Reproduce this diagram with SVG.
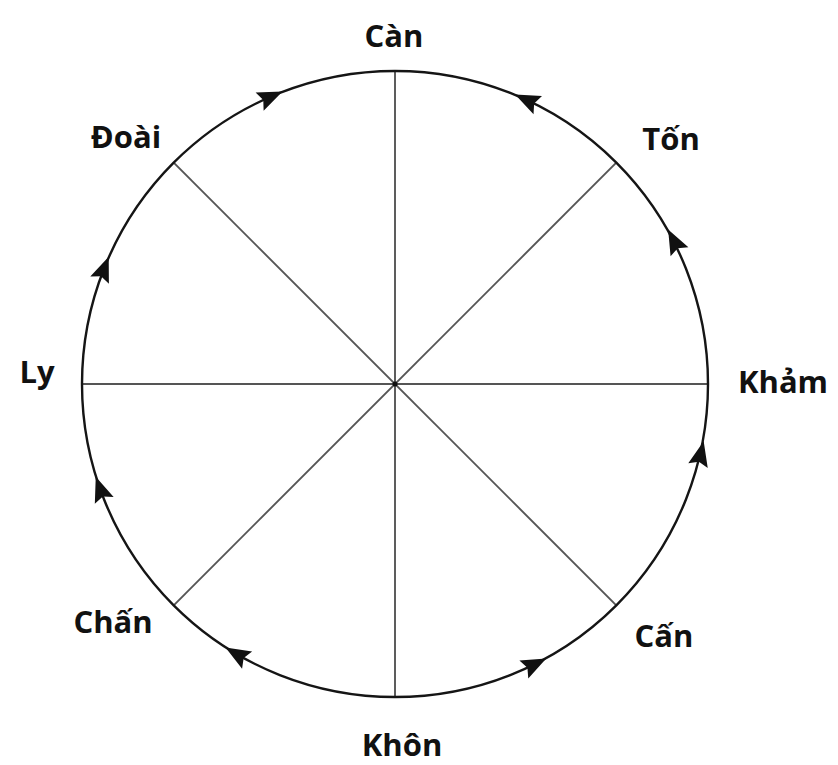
<svg xmlns="http://www.w3.org/2000/svg" width="838" height="765" viewBox="0 0 838 765">
<style>
.lbl{font-family:"Open Sans","Liberation Sans",sans-serif;font-weight:bold;font-size:31px;fill:#111;text-anchor:middle}
.spoke{stroke:#555;stroke-width:1.9;fill:none}
.ring{stroke:#151515;stroke-width:2.4;fill:none}
.ah{fill:#111}
</style>
<defs>
<path id="arrow" class="ah" d="M14,0 L-11,-10 L-7,0 L-11,10 Z"/>
</defs>
<rect width="838" height="765" fill="#fff"/>
<g id="connectors">
<line class="spoke" x1="395" y1="71" x2="395" y2="697"/>
<line class="spoke" x1="82" y1="384" x2="708" y2="384"/>
<line class="spoke" x1="173.7" y1="162.7" x2="616.3" y2="605.3"/>
<line class="spoke" x1="616.3" y1="162.7" x2="173.7" y2="605.3"/>
<circle class="ring" cx="395" cy="384" r="313"/>
<circle cx="395" cy="384" r="2.5" fill="#111"/>
<use href="#arrow" transform="translate(269.7,97.2) rotate(-23.6)"/>
<use href="#arrow" transform="translate(527.8,100.5) rotate(-154.9)"/>
<use href="#arrow" transform="translate(674.5,241.9) rotate(-117)"/>
<use href="#arrow" transform="translate(700.5,454.9) rotate(-76.9)"/>
<use href="#arrow" transform="translate(533.7,664.6) rotate(-26.3)"/>
<use href="#arrow" transform="translate(237.6,654.5) rotate(210.2)"/>
<use href="#arrow" transform="translate(100.5,490) rotate(250.2)"/>
<use href="#arrow" transform="translate(103.6,269.8) rotate(291.4)"/>
</g>
<g id="node-can"><text class="lbl" x="394" y="47">Càn</text></g>
<g id="node-ton"><text class="lbl" x="671" y="150">Tốn</text></g>
<g id="node-kham"><text class="lbl" x="783" y="393">Khảm</text></g>
<g id="node-can2"><text class="lbl" x="664" y="647">Cấn</text></g>
<g id="node-khon"><text class="lbl" x="402" y="756">Khôn</text></g>
<g id="node-chan"><text class="lbl" x="113" y="633">Chấn</text></g>
<g id="node-ly"><text class="lbl" x="37" y="383">Ly</text></g>
<g id="node-doai"><text class="lbl" x="126" y="148">Đoài</text></g>
</svg>
